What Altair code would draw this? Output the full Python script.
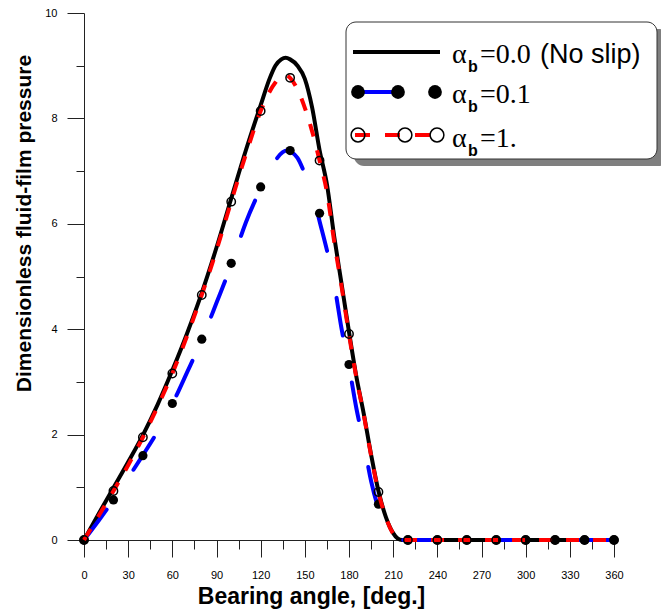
import altair as alt
import pandas as pd

# ---------------- data ----------------
black_x = [0, 10, 20, 30, 40, 50, 60, 70, 80, 90, 100, 110, 120, 126, 130, 134, 137, 140, 145, 150,
           155, 160, 165, 170, 175, 180, 185, 190, 195, 200, 205, 210, 213, 216, 220, 240, 260, 280,
           300, 320, 340, 360]
black_y = [0, 0.5, 0.99, 1.48, 1.99, 2.57, 3.22, 3.92, 4.69, 5.55, 6.48, 7.4, 8.25, 8.75, 9.0, 9.12,
           9.15, 9.12, 9.0, 8.75, 8.2, 7.4, 6.75, 5.75, 4.85, 3.95, 3.1, 2.4, 1.62, 0.93, 0.44, 0.13,
           0.03, 0, 0, 0, 0, 0, 0, 0, 0, 0]

blue_x = [0, 10, 20, 30, 40, 50, 60, 70, 80, 90, 100, 110, 120, 125, 130, 135, 138, 141, 145, 150,
          155, 160, 165, 170, 175, 180, 185, 190, 195, 200, 205, 210, 214, 220, 240, 260, 280, 300,
          320, 340, 360]
blue_y = [0, 0.37, 0.76, 1.18, 1.61, 2.06, 2.58, 3.18, 3.8, 4.5, 5.22, 6.03, 6.67, 6.97, 7.2, 7.36,
          7.39, 7.36, 7.25, 6.95, 6.6, 6.05, 5.5, 4.85, 4.0, 3.3, 2.5, 1.85, 1.12, 0.6, 0.25, 0.06,
          0, 0, 0, 0, 0, 0, 0, 0, 0]

red_x = [0, 10, 20, 30, 40, 50, 60, 70, 80, 90, 100, 110, 120, 125, 130, 135, 137, 140, 145, 150,
         155, 160, 165, 170, 175, 180, 185, 190, 195, 200, 205, 210, 213, 216, 220, 240, 260, 280,
         300, 320, 340, 360]
red_y = [0, 0.46, 0.93, 1.42, 1.95, 2.53, 3.16, 3.87, 4.65, 5.5, 6.42, 7.32, 8.14, 8.45, 8.68, 8.81,
         8.82, 8.77, 8.55, 8.2, 7.75, 7.2, 6.6, 5.65, 4.8, 3.9, 3.08, 2.38, 1.6, 0.91, 0.43, 0.12,
         0.03, 0, 0, 0, 0, 0, 0, 0, 0, 0]

mark_x = [0, 20, 40, 60, 80, 100, 120, 140, 160, 180, 200, 220, 240, 260, 280, 300, 320, 340, 360]
dot_y = [0, 0.76, 1.6, 2.59, 3.81, 5.25, 6.7, 7.39, 6.2, 3.33, 0.68, 0, 0, 0, 0, 0, 0, 0, 0]
circ_y = [0, 0.93, 1.95, 3.16, 4.65, 6.42, 8.14, 8.77, 7.2, 3.91, 0.91, 0, 0, 0, 0, 0, 0, 0, 0]

x_ticks = list(range(0, 361, 15))
y_ticks = list(range(0, 11, 1))

x_title = "Bearing angle, [deg.]"
y_title = "Dimensionless fluid-film pressure"
legend_labels = ["=0.0", "=0.1", "=1."]
legend_extra = "(No slip)"

# ---------------- encodings ----------------
SANS = "Liberation Sans, Arial, sans-serif"
SERIF = "Liberation Serif, Times New Roman, serif"
AX = "#222222"

xs = alt.Scale(domain=[0, 360], nice=False)
ys = alt.Scale(domain=[0, 10], nice=False)

x_axis = alt.Axis(
    values=x_ticks,
    labelExpr="datum.value % 30 === 0 ? datum.label : ''",
    tickSize={"condition": {"test": "datum.value % 30 === 0", "value": 17}, "value": 9},
    labelPadding=12,
    labelFont=SANS, labelFontSize=11, labelColor="black",
    title=x_title, titleFont=SANS, titleFontSize=23, titleFontWeight="bold", titleColor="black",
    titleX=227, titleY=63, titleBaseline="alphabetic", titleAnchor="middle", titleAlign="center",
    domainColor=AX, tickColor=AX, domainWidth=1, tickWidth=1, grid=False,
    labelOverlap=False, labelFlush=False,
)
y_axis = alt.Axis(
    values=y_ticks,
    labelExpr="datum.value % 2 === 0 ? datum.label : ''",
    tickSize={"condition": {"test": "datum.value % 2 === 0", "value": 17}, "value": 8},
    labelPadding=10,
    labelFont=SANS, labelFontSize=11, labelColor="black",
    title=y_title, titleFont=SANS, titleFontSize=21, titleFontWeight="bold", titleColor="black",
    titleX=-54, titleY=210, titleBaseline="alphabetic", titleAlign="center", titleAngle=270,
    domainColor=AX, tickColor=AX, domainWidth=1, tickWidth=1, grid=False,
    labelOverlap=False, labelFlush=False,
)

X = alt.X("angle:Q", scale=xs, axis=x_axis)
Y = alt.Y("p:Q", scale=ys, axis=y_axis)

black_df = pd.DataFrame({"angle": black_x, "p": black_y})
blue_df = pd.DataFrame({"angle": blue_x, "p": blue_y})
red_df = pd.DataFrame({"angle": red_x, "p": red_y})
dot_df = pd.DataFrame({"angle": mark_x, "p": dot_y})
circ_df = pd.DataFrame({"angle": mark_x, "p": circ_y})

black_line = alt.Chart(black_df).mark_line(color="black", strokeWidth=4, interpolate="monotone").encode(x=X, y=Y)
blue_line = alt.Chart(blue_df).mark_line(color="#0000ff", strokeWidth=4, strokeDash=[38, 48],
                                         strokeCap="round", interpolate="monotone").encode(x=X, y=Y)
dots = alt.Chart(dot_df).mark_point(filled=True, color="black", size=85, opacity=1).encode(x=X, y=Y)
red_line = alt.Chart(red_df).mark_line(color="#ff0000", strokeWidth=4, strokeDash=[13, 14],
                                       interpolate="monotone").encode(x=X, y=Y)
circles = alt.Chart(circ_df).mark_point(filled=False, color="black", size=70, strokeWidth=1.5,
                                        opacity=1).encode(x=X, y=Y)

# ---------------- legend (decoration, pixel positions relative to plot origin) ----------------
one = pd.DataFrame({"k": [0]})

shadow = alt.Chart(one).mark_rect(color="#7f7f7f", cornerRadius=10).encode(
    x=alt.value(270), x2=alt.value(585), y=alt.value(16), y2=alt.value(153))
box = alt.Chart(one).mark_rect(fill="white", stroke="#333333", strokeWidth=1, cornerRadius=10).encode(
    x=alt.value(262), x2=alt.value(573), y=alt.value(9), y2=alt.value(146))

leg_black = alt.Chart(one).mark_rule(color="black", strokeWidth=4).encode(
    x=alt.value(269), x2=alt.value(356), y=alt.value(39))
leg_blue = alt.Chart(one).mark_rule(color="#0000ff", strokeWidth=4).encode(
    x=alt.value(274), x2=alt.value(314), y=alt.value(79))
leg_dots = [alt.Chart(one).mark_point(filled=True, color="black", size=190, opacity=1).encode(
    x=alt.value(px), y=alt.value(79)) for px in (274, 314, 351)]
leg_red = alt.Chart(one).mark_rule(color="#ff0000", strokeWidth=4, strokeDash=[15, 15]).encode(
    x=alt.value(271), x2=alt.value(346), y=alt.value(122))
leg_circ = [alt.Chart(one).mark_point(filled=False, color="black", size=190, strokeWidth=1.5,
                                      opacity=1).encode(x=alt.value(px), y=alt.value(122))
            for px in (274, 321, 353)]

leg_text = []
for base, lab in zip((50, 90, 134), legend_labels):
    leg_text.append(alt.Chart(one).mark_text(font=SERIF, fontSize=28, align="left",
                                             baseline="alphabetic", color="black").encode(
        x=alt.value(368), y=alt.value(base), text=alt.value("α")))
    leg_text.append(alt.Chart(one).mark_text(font=SANS, fontSize=16, fontWeight="bold", align="left",
                                             baseline="alphabetic", color="black").encode(
        x=alt.value(384), y=alt.value(base + 9), text=alt.value("b")))
    leg_text.append(alt.Chart(one).mark_text(font=SERIF, fontSize=28, align="left",
                                             baseline="alphabetic", color="black").encode(
        x=alt.value(396), y=alt.value(base), text=alt.value(lab)))
leg_text.append(alt.Chart(one).mark_text(font=SANS, fontSize=27, align="left",
                                         baseline="alphabetic", color="black").encode(
    x=alt.value(456), y=alt.value(50), text=alt.value(legend_extra)))

chart = alt.layer(
    black_line, blue_line, dots, red_line, circles,
    shadow, box, leg_black, leg_blue, *leg_dots, leg_red, *leg_circ, *leg_text,
).properties(
    width=530, height=527,
    padding={"left": 84, "top": 13, "right": 47, "bottom": 74},
    autosize=alt.AutoSizeParams(type="none"),
    background="white",
).configure_view(stroke=None)

chart.save("out.html", embed_options={"renderer": "svg", "actions": False})
